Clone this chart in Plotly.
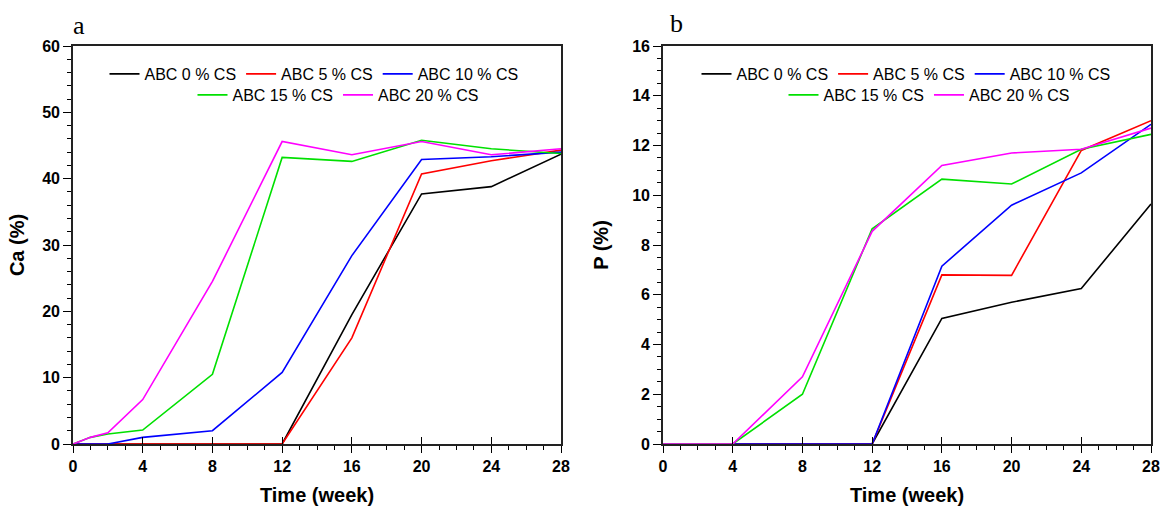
import plotly.graph_objects as go

names = ["ABC 0 % CS", "ABC 5 % CS", "ABC 10 % CS", "ABC 15 % CS", "ABC 20 % CS"]
colors = ["#000000", "#ff0000", "#0000ff", "#00e000", "#ff00ff"]
week_ticks = [0, 4, 8, 12, 16, 20, 24, 28]

weeks = [0, 1, 2, 4, 8, 12, 16, 20, 24, 28]
ca_0 = [0, 0, 0, 0, 0, 0, 19.5, 37.7, 38.8, 43.7]
ca_5 = [0, 0, 0, 0, 0, 0, 16.0, 40.7, 42.7, 44.3]
ca_10 = [0, 0, 0, 1.0, 2.0, 10.8, 28.4, 42.9, 43.3, 44.0]
ca_15 = [0, 1.0, 1.5, 2.1, 10.5, 43.2, 42.6, 45.8, 44.5, 43.8]
ca_20 = [0, 1.0, 1.7, 6.7, 24.5, 45.6, 43.6, 45.6, 43.6, 44.5]

p_weeks = [0, 4, 8, 12, 16, 20, 24, 28]
p_0 = [0, 0, 0, 0, 5.05, 5.7, 6.25, 9.65]
p_5 = [0, 0, 0, 0, 6.8, 6.78, 11.8, 13.0]
p_10 = [0, 0, 0, 0, 7.15, 9.6, 10.9, 12.85]
p_15 = [0, 0, 2.0, 8.65, 10.65, 10.45, 11.85, 12.45]
p_20 = [0, 0, 2.7, 8.55, 11.2, 11.7, 11.85, 12.7]

ca_series = [ca_0, ca_5, ca_10, ca_15, ca_20]
p_series = [p_0, p_5, p_10, p_15, p_20]

fig = go.Figure()
for i in range(5):
    fig.add_trace(go.Scatter(x=weeks, y=ca_series[i], mode="lines", name=names[i],
                             line=dict(color=colors[i], width=1.6),
                             xaxis="x", yaxis="y",
                             legend="legend" if i < 3 else "legend2"))
for i in range(5):
    fig.add_trace(go.Scatter(x=p_weeks, y=p_series[i], mode="lines", name=names[i],
                             line=dict(color=colors[i], width=1.6),
                             xaxis="x2", yaxis="y2",
                             legend="legend3" if i < 3 else "legend4"))
# empty traces so the overlay tick axes get drawn
fig.add_trace(go.Scatter(x=[], y=[], xaxis="x3", yaxis="y", showlegend=False))
fig.add_trace(go.Scatter(x=[], y=[], xaxis="x4", yaxis="y2", showlegend=False))

W, H = 1160, 506
def px(x):
    return x / W
def py(y):
    return 1 - y / H

axis_font = dict(family="Liberation Sans, Arial", size=16, color="#000", weight="bold")
title_font = dict(family="Liberation Sans, Arial", size=20, color="#000", weight="bold")

def xaxis(domain, anchor):
    return dict(domain=domain, anchor=anchor, range=[0, 28], tickmode="array",
                tickvals=week_ticks, ticks="outside", ticklen=7,
                tickwidth=1.4, tickcolor="#000", showline=True, linecolor="#222",
                linewidth=1.6, mirror=True, showgrid=False, zeroline=False,
                tickfont=axis_font, automargin=False,
                minor=dict(dtick=1, ticks="outside", ticklen=4, tickcolor="#000", tickwidth=1),
                title=dict(text="Time (week)", font=title_font, standoff=16))

def xover(over, anchor):
    return dict(overlaying=over, anchor=anchor, range=[0, 28], tickmode="array",
                tickvals=week_ticks, ticks="inside", ticklen=7, tickwidth=1.4,
                tickcolor="#000", showticklabels=False, showline=False,
                showgrid=False, zeroline=False, automargin=False)

def yaxis(domain, anchor, rng, dtick, mdt, title, standoff):
    return dict(domain=domain, anchor=anchor, range=rng, dtick=dtick, ticks="outside",
                ticklen=8, tickwidth=1.4, tickcolor="#000", showline=True,
                linecolor="#222", linewidth=1.6, mirror=True, showgrid=False,
                zeroline=False, tickfont=axis_font, automargin=False,
                minor=dict(dtick=mdt, ticks="outside", ticklen=4, tickcolor="#000", tickwidth=1),
                title=dict(text=title, font=title_font, standoff=standoff))

ydom = [py(444), py(46)]
leg_font = dict(family="Liberation Sans, Arial", size=16, color="#000")
def legend(x, y):
    return dict(x=x, y=y, xanchor="center", yanchor="middle", orientation="h",
                font=leg_font, bgcolor="rgba(0,0,0,0)", itemwidth=30,
                tracegroupgap=0, itemclick=False)

fig.update_layout(
    width=W, height=H,
    paper_bgcolor="white", plot_bgcolor="white",
    margin=dict(l=0, r=0, t=0, b=0, autoexpand=False),
    xaxis=xaxis([px(73), px(561)], "y"),
    yaxis=yaxis(ydom, "x", [0, 60], 10, 2, "Ca (%)", 12),
    xaxis2=xaxis([px(663), px(1151)], "y2"),
    yaxis2=yaxis(ydom, "x2", [0, 16], 2, 0.5, "P (%)", 18),
    xaxis3=xover("x", "y"),
    xaxis4=xover("x2", "y2"),
    legend=legend(px(314), py(74)),
    legend2=legend(px(338), py(95)),
    legend3=legend(px(906), py(74)),
    legend4=legend(px(929), py(95)),
    annotations=[
        dict(text="a", x=px(79), y=py(25), xref="paper", yref="paper", showarrow=False,
             xanchor="center", yanchor="middle",
             font=dict(family="Liberation Serif, Times New Roman", size=26, color="#000")),
        dict(text="b", x=px(676), y=py(24), xref="paper", yref="paper", showarrow=False,
             xanchor="center", yanchor="middle",
             font=dict(family="Liberation Serif, Times New Roman", size=26, color="#000")),
    ],
)

fig.write_html(
    "out.html",
    config={"displayModeBar": False},
    post_script="document.body.style.margin='0';document.body.style.overflow='hidden';",
)
